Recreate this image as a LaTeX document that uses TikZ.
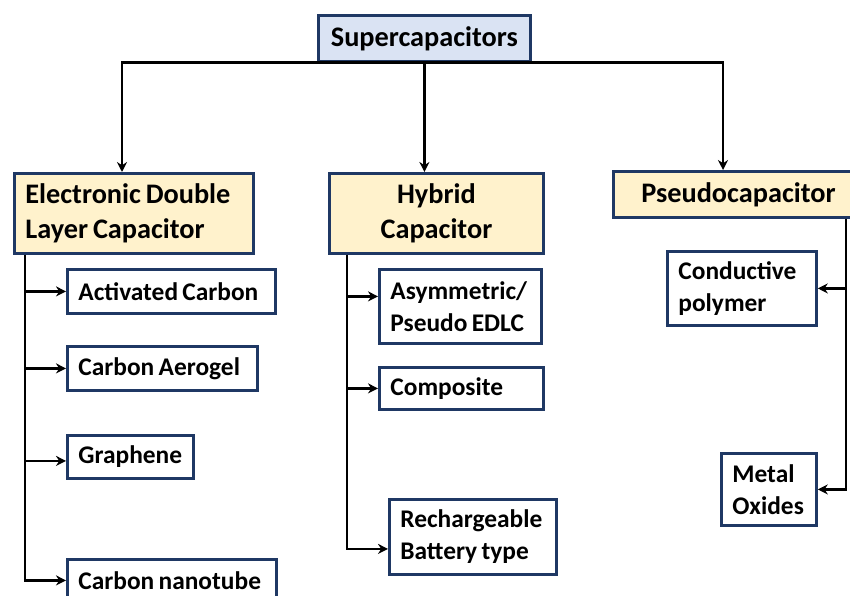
\documentclass[tikz,border=0pt]{standalone}
\usepackage{fontspec}
\setmainfont{Carlito}
\usetikzlibrary{arrows.meta}
\definecolor{navy}{HTML}{1F3864}
\definecolor{topfill}{HTML}{DAE3F3}
\definecolor{catfill}{HTML}{FFF2CC}
\newcommand\tightspace{\spaceskip=0.17em\relax}
\tikzset{
  box/.style={draw=navy, line width=2.8pt, fill=white, anchor=north west, inner xsep=11pt, inner ysep=0pt,
    font=\bfseries\fontsize{25.4}{32}\selectfont, align=left, execute at begin node=\tightspace},
  headbox/.style={box, fill=catfill, font=\bfseries\fontsize{28.3}{35}\selectfont},
  topbox/.style={box, fill=topfill, font=\bfseries\fontsize{28.3}{35}\selectfont, align=center},
  arr/.style={line width=2.8pt, -{Stealth[length=10pt,width=10pt]}}
}
\begin{document}
\begin{tikzpicture}[x=1pt,y=-1pt]
\clip (0,0) rectangle (850,596);
\fill[white] (0,0) rectangle (850,596);
% nodes
\node[topbox, minimum width=212pt, minimum height=46pt, text width=190pt] (sup) at (317,14) {Supercapacitors};
\node[headbox, minimum width=239pt, minimum height=80pt, text width=217pt] (edlc) at (13,172) {Electronic Double\\Layer Capacitor};
\node[headbox, minimum width=214pt, minimum height=80pt, text width=192pt, align=center] (hyb) at (328,172) {Hybrid\\Capacitor};
\node[headbox, minimum width=250pt, minimum height=46pt, text width=228pt, align=center] (pse) at (612,170) {Pseudocapacitor};
\node[box, minimum width=208pt, minimum height=44pt, text width=186pt] (ac) at (66,268) {Activated Carbon};
\node[box, minimum width=190pt, minimum height=44pt, text width=168pt] (ca) at (66,345) {Carbon Aerogel};
\node[box, minimum width=126pt, minimum height=43pt, text width=104pt] (gr) at (66,434) {Graphene};
\node[box, minimum width=209pt, minimum height=42pt, text width=187pt] (cn) at (66,558) {Carbon nanotube};
\node[box, minimum width=162pt, minimum height=74pt, text width=140pt] (asy) at (378,268) {Asymmetric/\\Pseudo EDLC};
\node[box, minimum width=164pt, minimum height=42pt, text width=142pt] (comp) at (378,366) {Composite};
\node[box, minimum width=167pt, minimum height=75pt, text width=145pt] (rech) at (388,498) {Rechargeable\\Battery type};
\node[box, minimum width=149pt, minimum height=74pt, text width=127pt] (cp) at (666,250) {Conductive\\polymer};
\node[box, minimum width=95pt, minimum height=72pt, text width=73pt] (mo) at (720,452) {Metal\\Oxides};
% top connectors
\draw[arr] (sup.south) -- (sup.south |- hyb.north);
\draw[arr] (sup.south) -| ([xshift=109pt]edlc.north west);
\draw[arr] (sup.south) -| ([xshift=111pt]pse.north west);
% EDLC branch
\draw[arr] ([xshift=12pt]edlc.south west) |- (ac.west);
\draw[arr] ([xshift=12pt]edlc.south west) |- (ca.west);
\draw[arr] ([xshift=12pt]edlc.south west) |- ([yshift=-4pt]gr.west);
\draw[arr] ([xshift=12pt]edlc.south west) |- (cn.west);
% Hybrid branch
\draw[arr] ([xshift=19pt]hyb.south west) |- ([yshift=10pt]asy.west);
\draw[arr] ([xshift=19pt]hyb.south west) |- (comp.west);
\draw[arr] ([xshift=19pt]hyb.south west) |- ([yshift=-12pt]rech.west);
% Pseudo branch
\draw[arr] ([xshift=234pt]pse.south west) |- (cp.east);
\draw[arr] ([xshift=234pt]pse.south west) |- (mo.east);
\end{tikzpicture}
\end{document}
